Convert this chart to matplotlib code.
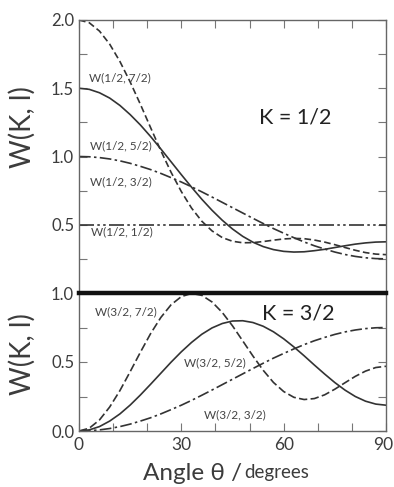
import matplotlib
matplotlib.use("Agg")
import matplotlib.pyplot as plt
from matplotlib.ticker import MultipleLocator
import matplotlib.transforms as mtransforms

plt.rcParams['font.family'] = ['Lato', 'DejaVu Sans']

angles = [0, 3, 6, 9, 12, 15, 18, 21, 24, 27, 30, 33, 36, 39, 42, 45,
          48, 51, 54, 57, 60, 63, 66, 69, 72, 75, 78, 81, 84, 87, 90]

# K = 1/2 panel
w_half_half = [0.50] * 31
w_half_3half = [1.000, 0.998, 0.992, 0.982, 0.968, 0.950, 0.928, 0.904, 0.876, 0.845, 0.813,
                0.778, 0.741, 0.703, 0.664, 0.625, 0.586, 0.547, 0.509, 0.472, 0.438,
                0.405, 0.374, 0.346, 0.322, 0.300, 0.282, 0.268, 0.258, 0.252, 0.250]
w_half_5half = [1.500, 1.492, 1.467, 1.428, 1.374, 1.307, 1.231, 1.146, 1.055, 0.961, 0.867,
                0.775, 0.687, 0.606, 0.533, 0.469, 0.415, 0.372, 0.340, 0.318, 0.305,
                0.300, 0.302, 0.310, 0.320, 0.333, 0.346, 0.358, 0.367, 0.373, 0.375]
w_half_7half = [2.000, 1.980, 1.919, 1.823, 1.696, 1.546, 1.382, 1.211, 1.042, 0.884, 0.743,
                0.622, 0.526, 0.455, 0.406, 0.379, 0.368, 0.369, 0.377, 0.387, 0.396,
                0.400, 0.398, 0.388, 0.373, 0.354, 0.333, 0.313, 0.296, 0.285, 0.281]

# K = 3/2 panel
w_3half_3half = [0.000, 0.002, 0.008, 0.018, 0.032, 0.050, 0.072, 0.096, 0.124, 0.155, 0.187,
                 0.222, 0.259, 0.297, 0.336, 0.375, 0.414, 0.453, 0.491, 0.528, 0.562,
                 0.595, 0.626, 0.654, 0.678, 0.700, 0.718, 0.732, 0.742, 0.748, 0.750]
w_3half_5half = [0.000, 0.008, 0.032, 0.072, 0.124, 0.188, 0.261, 0.339, 0.419, 0.499, 0.574,
                 0.642, 0.701, 0.747, 0.779, 0.797, 0.799, 0.786, 0.759, 0.719, 0.668,
                 0.609, 0.545, 0.478, 0.413, 0.351, 0.296, 0.250, 0.216, 0.195, 0.187]
w_3half_7half = [0.000, 0.020, 0.080, 0.174, 0.293, 0.430, 0.571, 0.706, 0.823, 0.915, 0.974,
                 0.997, 0.983, 0.935, 0.859, 0.762, 0.653, 0.543, 0.440, 0.352, 0.286,
                 0.244, 0.228, 0.235, 0.262, 0.303, 0.350, 0.396, 0.434, 0.460, 0.469]

x_major = [0, 30, 60, 90]
x_major_labels = ["0", "30", "60", "90"]
top_yticks = [0.5, 1.0, 1.5, 2.0]
top_ylabels = ["0.5", "1.0", "1.5", "2.0"]
bot_yticks = [0.0, 0.5, 1.0]
bot_ylabels = ["0.0", "0.5", "1.0"]

LC = '#333333'
TC = '#3c3c3c'
W, H = 394, 487
fig = plt.figure(figsize=(W / 100, H / 100), dpi=100)

def px(x0, y0, x1, y1):
    return [x0 / W, 1 - y1 / H, (x1 - x0) / W, (y1 - y0) / H]

ax1 = fig.add_axes(px(79, 20, 386, 293))
ax2 = fig.add_axes(px(79, 293, 386, 431))

lw = 1.2
ax1.plot(angles, w_half_half, color=LC, lw=lw, ls=(0, (9, 2, 1.5, 2, 1.5, 2)))
ax1.plot(angles, w_half_3half, color=LC, lw=lw, ls=(0, (7, 2, 1.5, 2)))
ax1.plot(angles, w_half_5half, color=LC, lw=lw, ls='-')
ax1.plot(angles, w_half_7half, color=LC, lw=lw, ls=(0, (4, 2)))

ax2.plot(angles, w_3half_7half, color=LC, lw=lw, ls=(0, (5, 2)))
ax2.plot(angles, w_3half_5half, color=LC, lw=lw, ls='-')
ax2.plot(angles, w_3half_3half, color=LC, lw=lw, ls=(0, (7, 2, 1.5, 2)))

for ax in (ax1, ax2):
    ax.set_xlim(0, 90)
    ax.xaxis.set_minor_locator(MultipleLocator(10))
    ax.yaxis.set_minor_locator(MultipleLocator(0.25))
    ax.tick_params(which='both', direction='in', colors='#777777', labelcolor=TC,
                   labelsize=12, width=0.8, length=6)
    for s in ax.spines.values():
        s.set_color('#666666')
        s.set_linewidth(1.0)

ax1.set_ylim(0, 2.0)
ax1.set_yticks(top_yticks)
ax1.set_yticklabels(top_ylabels)
ax1.set_xticks(x_major)
ax1.tick_params(which='both', top=True, bottom=False, right=True, labelbottom=False)

ax2.set_ylim(0, 1.0)
ax2.set_yticks(bot_yticks)
ax2.set_yticklabels(bot_ylabels)
ax2.set_xticks(x_major)
ax2.set_xticklabels(x_major_labels)
ax2.tick_params(which='both', top=False, bottom=True, right=True)
ax2.tick_params(axis='x', labelsize=12.5, pad=4)
ax2.spines['top'].set_linewidth(3.2)
ax2.spines['top'].set_color('#111111')
ax1.spines['bottom'].set_visible(False)

# keep the last x label inside the figure
last = ax2.get_xticklabels()[-1]
last.set_transform(last.get_transform() + mtransforms.ScaledTranslation(-3 / 100, 0, fig.dpi_scale_trans))

# y labels
fig.text(22 / W, 1 - 127 / H, "W(K, l)", rotation=90, ha='center', va='center',
         fontsize=20, color=TC)
fig.text(22 / W, 1 - 354 / H, "W(K, l)", rotation=90, ha='center', va='center',
         fontsize=20, color=TC)

# panel titles
fig.text(295 / W, 1 - 118 / H, "K = 1/2", ha='center', va='center', fontsize=15.5, color='#222222')
fig.text(298 / W, 1 - 313 / H, "K = 3/2", ha='center', va='center', fontsize=15.5, color='#222222')

# curve labels
lab_fs = 8.5
labels = [("W(1/2, 7/2)", 120, 78), ("W(1/2, 5/2)", 121, 146), ("W(1/2, 3/2)", 121, 182),
          ("W(1/2, 1/2)", 122, 232), ("W(3/2, 7/2)", 126, 312), ("W(3/2, 5/2)", 215, 363),
          ("W(3/2, 3/2)", 235, 415)]
for t, x, y in labels:
    fig.text(x / W, 1 - y / H, t, ha='center', va='center', fontsize=lab_fs, color='#444444')

# x label
t1 = fig.text(143 / W, 1 - 473 / H, "Angle \u03b8 /", ha='left', va='center', fontsize=17.5, color=TC)
fig.canvas.draw()
bb = t1.get_window_extent()
fig.text(bb.x1 / W + 0.006, bb.y0 / H + 0.005, "degrees", ha='left', va='bottom', fontsize=13.5, color=TC)

fig.savefig("out.png", dpi=100)
